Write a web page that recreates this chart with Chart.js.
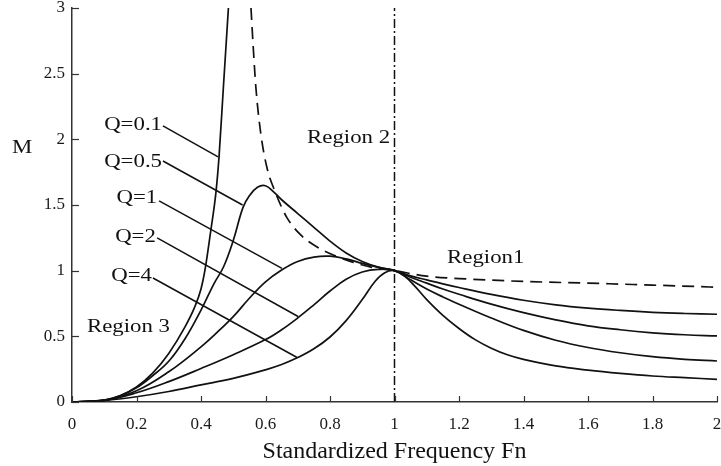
<!DOCTYPE html>
<html>
<head>
<meta charset="utf-8">
<script src="https://cdn.jsdelivr.net/npm/chart.js@4.4.0/dist/chart.umd.min.js"></script>
<style>
  html, body { margin: 0; background: #fff; }
  #wrap { width: 721px; height: 466px; }
</style>
</head>
<body>
<div id="wrap"><canvas id="gainChart"></canvas></div>
<script>
"use strict";

/* ---- values: fn = standardized frequency, M = gain ---- */
const xTickValues = [0, 0.2, 0.4, 0.6, 0.8, 1, 1.2, 1.4, 1.6, 1.8, 2];
const xTickLabels = ['0', '0.2', '0.4', '0.6', '0.8', '1', '1.2', '1.4', '1.6', '1.8', '2'];
const yTickValues = [0, 0.5, 1, 1.5, 2, 2.5, 3];
const yTickLabels = ['0', '0.5', '1', '1.5', '2', '2.5', '3'];

// Q = 0.1 (runs off the top before the pole)
const fnQ01 = [0, 0.1, 0.15, 0.2, 0.25, 0.3, 0.35, 0.38, 0.4, 0.412, 0.43, 0.4465, 0.456, 0.469, 0.485];
const mQ01  = [0, 0.015, 0.05, 0.115, 0.22, 0.37, 0.57, 0.72, 0.86, 1.0, 1.3, 1.6, 1.87, 2.38, 3.0];

// Q = 0.5
const fnQ05 = [0, 0.1, 0.15, 0.2, 0.25, 0.3, 0.35, 0.4, 0.44, 0.47, 0.5, 0.53, 0.55, 0.575, 0.6, 0.625, 0.65, 0.7, 0.75, 0.8, 0.85, 0.9, 0.95, 1.0,
               1.05, 1.1, 1.15, 1.2, 1.3, 1.4, 1.5, 1.6, 1.7, 1.8, 1.9, 2.0];
const mQ05  = [0, 0.014, 0.048, 0.108, 0.2, 0.31, 0.48, 0.7, 0.9, 1.03, 1.23, 1.48, 1.57, 1.635, 1.647, 1.6, 1.54, 1.435, 1.33, 1.225, 1.135, 1.07, 1.027, 1.0,
               0.96, 0.93, 0.9, 0.872, 0.82, 0.775, 0.74, 0.715, 0.697, 0.683, 0.674, 0.668];

// Q = 1
const fnQ1 = [0, 0.1, 0.2, 0.3, 0.4, 0.45, 0.5, 0.55, 0.6, 0.65, 0.7, 0.75, 0.8, 0.85, 0.9, 0.95, 1.0,
              1.05, 1.1, 1.15, 1.2, 1.3, 1.4, 1.5, 1.6, 1.7, 1.8, 1.9, 2.0];
const mQ1  = [0, 0.013, 0.085, 0.23, 0.42, 0.53, 0.65, 0.79, 0.915, 1.005, 1.07, 1.103, 1.11, 1.09, 1.055, 1.025, 1.0,
              0.95, 0.905, 0.86, 0.82, 0.745, 0.68, 0.625, 0.58, 0.55, 0.527, 0.512, 0.503];

// Q = 2
const fnQ2 = [0, 0.1, 0.2, 0.3, 0.4, 0.5, 0.6, 0.65, 0.7, 0.75, 0.8, 0.85, 0.9, 0.95, 1.0,
              1.05, 1.1, 1.15, 1.2, 1.3, 1.4, 1.5, 1.6, 1.7, 1.8, 1.9, 2.0];
const mQ2  = [0, 0.012, 0.07, 0.155, 0.255, 0.36, 0.475, 0.55, 0.64, 0.74, 0.845, 0.935, 0.99, 1.01, 1.0,
              0.93, 0.86, 0.8, 0.745, 0.64, 0.545, 0.47, 0.415, 0.375, 0.345, 0.325, 0.312];

// Q = 4
const fnQ4 = [0, 0.1, 0.2, 0.3, 0.4, 0.5, 0.6, 0.65, 0.7, 0.75, 0.8, 0.85, 0.9, 0.94, 0.97, 1.0,
              1.03, 1.06, 1.1, 1.15, 1.2, 1.25, 1.3, 1.35, 1.4, 1.5, 1.6, 1.7, 1.8, 1.9, 2.0];
const mQ4  = [0, 0.012, 0.04, 0.08, 0.13, 0.18, 0.245, 0.285, 0.338, 0.405, 0.495, 0.62, 0.78, 0.92, 0.985, 1.0,
              0.96, 0.89, 0.78, 0.66, 0.56, 0.475, 0.41, 0.36, 0.325, 0.275, 0.243, 0.218, 0.198, 0.185, 0.173];

// no-load curve (dashed)
const fnNoLoad = [0.555, 0.562, 0.57, 0.585, 0.605, 0.63, 0.665, 0.71, 0.76, 0.81, 0.87, 0.93, 1.0, 1.1, 1.2, 1.4, 1.6, 1.8, 2.0];
const mNoLoad  = [3.0, 2.7, 2.4, 2.05, 1.78, 1.6, 1.41, 1.27, 1.18, 1.12, 1.065, 1.025, 1.0, 0.958, 0.94, 0.918, 0.905, 0.89, 0.874];

// resonance marker fn = 1
const fnResonance = [1, 1];
const mResonance  = [0, 3];

/* ---- annotation text + leaders, placed in data coordinates ---- */
const labelText = ['Q=0.1', 'Q=0.5', 'Q=1', 'Q=2', 'Q=4'];
const labelAt   = [[0.279, 2.072], [0.279, 1.79], [0.264, 1.516], [0.26, 1.219], [0.248, 0.922]];
const leaderFrom = [[0.282, 2.102], [0.282, 1.835], [0.270, 1.531], [0.264, 1.249], [0.251, 0.944]];
const leaderTo   = [[0.453, 1.866], [0.529, 1.50], [0.651, 1.017], [0.701, 0.651], [0.698, 0.339]];
const regionText = ['Region 3', 'Region 2', 'Region1'];
const regionAt   = [[0.0465, 0.533], [0.729, 1.973], [1.163, 1.059]];

const SERIF = "'Liberation Serif', 'DejaVu Serif', serif";
const INK = '#111';

function pts(xs, ys) { return xs.map((x, i) => ({ x, y: ys[i] })); }

// smooth: spline with tension for the gentle curves, monotone for the steep ones
function curve(data, opts) {
  return Object.assign({
    data,
    borderColor: INK,
    borderWidth: 1.7,
    borderDash: [],
    pointRadius: 0,
    fill: false,
    cubicInterpolationMode: 'default',
    tension: 0.4
  }, opts || {});
}

// stretched serif text, the figure's lettering is wide
function wideText(ctx, txt, x, y, size, align) {
  ctx.save();
  ctx.font = size + 'px ' + SERIF;
  const w = ctx.measureText(txt).width * 1.2;
  ctx.translate(align === 'right' ? x - w : x, y);
  ctx.scale(1.2, 1);
  ctx.textAlign = 'left';
  ctx.textBaseline = 'alphabetic';
  ctx.fillText(txt, 0, 0);
  ctx.restore();
}

const notesPlugin = {
  id: 'notes',
  afterDraw(chart) {
    const { ctx, scales: { x, y } } = chart;
    ctx.save();
    ctx.fillStyle = INK;

    // inward tick marks
    ctx.lineWidth = 1.2;
    ctx.strokeStyle = '#333';
    x.ticks.forEach(t => {
      const px = Math.round(x.getPixelForValue(t.value)) + 0.5;
      ctx.beginPath(); ctx.moveTo(px, y.bottom); ctx.lineTo(px, y.bottom - 6); ctx.stroke();
    });
    y.ticks.forEach(t => {
      const py = Math.round(y.getPixelForValue(t.value)) + 0.5;
      ctx.beginPath(); ctx.moveTo(x.left, py); ctx.lineTo(x.left + 7, py); ctx.stroke();
    });

    // leader lines
    ctx.strokeStyle = INK;
    ctx.lineWidth = 1.5;
    leaderFrom.forEach((a, i) => {
      const b = leaderTo[i];
      ctx.beginPath();
      ctx.moveTo(x.getPixelForValue(a[0]), y.getPixelForValue(a[1]));
      ctx.lineTo(x.getPixelForValue(b[0]), y.getPixelForValue(b[1]));
      ctx.stroke();
    });

    labelText.forEach((t, i) => {
      wideText(ctx, t, x.getPixelForValue(labelAt[i][0]), y.getPixelForValue(labelAt[i][1]), 19, 'right');
    });
    regionText.forEach((t, i) => {
      wideText(ctx, t, x.getPixelForValue(regionAt[i][0]), y.getPixelForValue(regionAt[i][1]), 19, 'left');
    });
    // y-axis name, upright, left of the tick labels
    wideText(ctx, 'M', x.getPixelForValue(-0.186), y.getPixelForValue(1.896), 19, 'left');
    ctx.restore();
  }
};

new Chart(document.getElementById('gainChart'), {
  type: 'line',
  data: {
    datasets: [
      curve(pts(fnQ01, mQ01), { cubicInterpolationMode: 'monotone' }),
      curve(pts(fnQ05, mQ05)),
      curve(pts(fnQ1, mQ1)),
      curve(pts(fnQ2, mQ2)),
      curve(pts(fnQ4, mQ4)),
      curve(pts(fnNoLoad, mNoLoad), { borderDash: [12, 7], cubicInterpolationMode: 'monotone' }),
      curve(pts(fnResonance, mResonance), { borderDash: [9, 3, 2, 3], borderWidth: 1.5, tension: 0 })
    ]
  },
  options: {
    responsive: true,
    maintainAspectRatio: false,
    animation: false,
    layout: { padding: { top: 8, right: 4, left: 0, bottom: 0 } },
    plugins: { legend: { display: false }, tooltip: { enabled: false } },
    scales: {
      x: {
        type: 'linear',
        min: 0, max: 2,
        afterBuildTicks: s => { s.ticks = xTickValues.map(v => ({ value: v })); },
        afterFit: s => { s.height = 64; s.paddingLeft = 0; s.paddingRight = 0; },
        grid: { display: false, drawTicks: false },
        border: { display: true, color: '#333', width: 1.5 },
        ticks: {
          autoSkip: false,
          maxRotation: 0,
          padding: 12,
          color: '#1a1a1a',
          font: { family: SERIF, size: 17 },
          callback: (v, i) => xTickLabels[i]
        },
        title: {
          display: true,
          text: 'Standardized Frequency Fn',
          color: INK,
          font: { family: SERIF, size: 24 },
          padding: { top: 0, bottom: 0 }
        }
      },
      y: {
        type: 'linear',
        min: 0, max: 3,
        afterBuildTicks: s => { s.ticks = yTickValues.map(v => ({ value: v })); },
        afterFit: s => { s.width = 72; s.paddingTop = 0; s.paddingBottom = 0; },
        grid: { display: false, drawTicks: false },
        border: { display: true, color: '#333', width: 1.5 },
        ticks: {
          autoSkip: false,
          padding: 7,
          color: '#1a1a1a',
          font: { family: SERIF, size: 17 },
          callback: (v, i) => yTickLabels[i]
        }
      }
    }
  },
  plugins: [notesPlugin]
});
</script>
</body>
</html>
